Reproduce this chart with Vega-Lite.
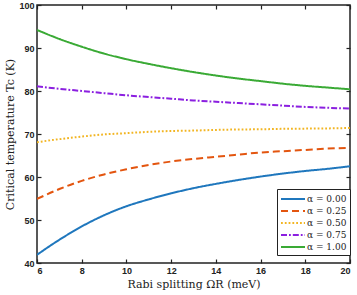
{
  "$schema": "https://vega.github.io/schema/vega-lite/v6.json",
  "autosize": {"type": "none"},
  "padding": {"left": 37, "top": 5, "right": 7, "bottom": 32},
  "width": 313,
  "height": 258,
  "background": "white",
  "config": {
    "view": {"stroke": "#222", "strokeWidth": 1.5},
    "axis": {"grid": false, "domain": false, "tickColor": "#222", "tickSize": -4, "tickWidth": 1.2,
             "labelFont": "Liberation Sans", "labelFontWeight": "bold", "labelFontSize": 9, "labelColor": "#222",
             "titleFont": "DejaVu Serif", "titleFontWeight": "normal", "titleFontSize": 11, "titleColor": "#222"}
  },
  "data": {"values": [
    {"x": 6, "a": "α = 0.00", "t": 41.9}, {"x": 6.5, "a": "α = 0.00", "t": 43.7}, {"x": 7, "a": "α = 0.00", "t": 45.4}, {"x": 7.5, "a": "α = 0.00", "t": 47.0}, {"x": 8, "a": "α = 0.00", "t": 48.5}, {"x": 9, "a": "α = 0.00", "t": 51.1}, {"x": 10, "a": "α = 0.00", "t": 53.2}, {"x": 11, "a": "α = 0.00", "t": 54.8}, {"x": 12, "a": "α = 0.00", "t": 56.2}, {"x": 13, "a": "α = 0.00", "t": 57.4}, {"x": 14, "a": "α = 0.00", "t": 58.4}, {"x": 15, "a": "α = 0.00", "t": 59.3}, {"x": 16, "a": "α = 0.00", "t": 60.1}, {"x": 17, "a": "α = 0.00", "t": 60.8}, {"x": 18, "a": "α = 0.00", "t": 61.4}, {"x": 19, "a": "α = 0.00", "t": 61.9}, {"x": 20, "a": "α = 0.00", "t": 62.5},
    {"x": 6, "a": "α = 0.25", "t": 54.9}, {"x": 7, "a": "α = 0.25", "t": 57.2}, {"x": 8, "a": "α = 0.25", "t": 59.1}, {"x": 9, "a": "α = 0.25", "t": 60.6}, {"x": 10, "a": "α = 0.25", "t": 61.8}, {"x": 11, "a": "α = 0.25", "t": 62.8}, {"x": 12, "a": "α = 0.25", "t": 63.6}, {"x": 13, "a": "α = 0.25", "t": 64.2}, {"x": 14, "a": "α = 0.25", "t": 64.7}, {"x": 15, "a": "α = 0.25", "t": 65.2}, {"x": 16, "a": "α = 0.25", "t": 65.7}, {"x": 17, "a": "α = 0.25", "t": 66.0}, {"x": 18, "a": "α = 0.25", "t": 66.3}, {"x": 19, "a": "α = 0.25", "t": 66.6}, {"x": 20, "a": "α = 0.25", "t": 66.8},
    {"x": 6, "a": "α = 0.50", "t": 68.1}, {"x": 7, "a": "α = 0.50", "t": 68.8}, {"x": 8, "a": "α = 0.50", "t": 69.4}, {"x": 9, "a": "α = 0.50", "t": 69.9}, {"x": 10, "a": "α = 0.50", "t": 70.2}, {"x": 11, "a": "α = 0.50", "t": 70.5}, {"x": 12, "a": "α = 0.50", "t": 70.7}, {"x": 13, "a": "α = 0.50", "t": 70.8}, {"x": 14, "a": "α = 0.50", "t": 70.95}, {"x": 15, "a": "α = 0.50", "t": 71.05}, {"x": 16, "a": "α = 0.50", "t": 71.1}, {"x": 17, "a": "α = 0.50", "t": 71.2}, {"x": 18, "a": "α = 0.50", "t": 71.25}, {"x": 19, "a": "α = 0.50", "t": 71.3}, {"x": 20, "a": "α = 0.50", "t": 71.4},
    {"x": 6, "a": "α = 0.75", "t": 81.1}, {"x": 7, "a": "α = 0.75", "t": 80.5}, {"x": 8, "a": "α = 0.75", "t": 80.0}, {"x": 9, "a": "α = 0.75", "t": 79.5}, {"x": 10, "a": "α = 0.75", "t": 79.0}, {"x": 11, "a": "α = 0.75", "t": 78.6}, {"x": 12, "a": "α = 0.75", "t": 78.2}, {"x": 13, "a": "α = 0.75", "t": 77.8}, {"x": 14, "a": "α = 0.75", "t": 77.5}, {"x": 15, "a": "α = 0.75", "t": 77.2}, {"x": 16, "a": "α = 0.75", "t": 76.9}, {"x": 17, "a": "α = 0.75", "t": 76.6}, {"x": 18, "a": "α = 0.75", "t": 76.3}, {"x": 19, "a": "α = 0.75", "t": 76.1}, {"x": 20, "a": "α = 0.75", "t": 75.9},
    {"x": 6, "a": "α = 1.00", "t": 94.2}, {"x": 7, "a": "α = 1.00", "t": 92.1}, {"x": 8, "a": "α = 1.00", "t": 90.3}, {"x": 9, "a": "α = 1.00", "t": 88.7}, {"x": 10, "a": "α = 1.00", "t": 87.4}, {"x": 11, "a": "α = 1.00", "t": 86.3}, {"x": 12, "a": "α = 1.00", "t": 85.3}, {"x": 13, "a": "α = 1.00", "t": 84.4}, {"x": 14, "a": "α = 1.00", "t": 83.6}, {"x": 15, "a": "α = 1.00", "t": 82.9}, {"x": 16, "a": "α = 1.00", "t": 82.3}, {"x": 17, "a": "α = 1.00", "t": 81.7}, {"x": 18, "a": "α = 1.00", "t": 81.2}, {"x": 19, "a": "α = 1.00", "t": 80.8}, {"x": 20, "a": "α = 1.00", "t": 80.4}
  ]},
  "layer": [
    {
      "mark": {"type": "line", "interpolate": "monotone", "strokeWidth": 2, "clip": true},
      "encoding": {
        "x": {"field": "x", "type": "quantitative", "scale": {"domain": [6, 20], "nice": false},
              "axis": {"values": [6, 8, 10, 12, 14, 16, 18, 20], "title": "Rabi splitting ΩR (meV)", "labelPadding": 7, "titlePadding": 3}},
        "y": {"field": "t", "type": "quantitative", "scale": {"domain": [40, 100], "nice": false, "zero": false},
              "axis": {"values": [40, 50, 60, 70, 80, 90, 100], "title": "Critical temperature Tc (K)", "labelPadding": 7, "titlePadding": 3}},
        "color": {"field": "a", "type": "nominal",
                  "scale": {"domain": ["α = 0.00", "α = 0.25", "α = 0.50", "α = 0.75", "α = 1.00"],
                            "range": ["#1F77BD", "#E3550F", "#F2B522", "#8B1FE0", "#3AAA35"]},
                  "legend": {"title": null, "orient": "none", "legendX": 240, "legendY": 184,
                             "strokeColor": "#222", "fillColor": "white", "padding": 3,
                             "symbolType": "M-2,0H2", "symbolSize": 144, "symbolStrokeWidth": 2, "symbolOffset": 6,
                             "labelFont": "DejaVu Serif", "labelFontSize": 9, "labelColor": "#222", "rowPadding": 0, "labelOffset": 7}},
        "strokeDash": {"field": "a", "type": "nominal",
                       "scale": {"domain": ["α = 0.00", "α = 0.25", "α = 0.50", "α = 0.75", "α = 1.00"],
                                 "range": [[1, 0], [7, 4], [1.8, 2], [6, 2, 1.8, 2], [1, 0]]},
                       "legend": null}
      }
    },
    {
      "mark": {"type": "line", "opacity": 0},
      "encoding": {
        "x": {"field": "x", "type": "quantitative", "scale": {"domain": [6, 20], "nice": false},
              "axis": {"orient": "top", "values": [6, 8, 10, 12, 14, 16, 18, 20], "labels": false, "title": null}},
        "y": {"field": "t", "type": "quantitative", "scale": {"domain": [40, 100], "nice": false, "zero": false},
              "axis": {"orient": "right", "values": [40, 50, 60, 70, 80, 90, 100], "labels": false, "title": null}},
        "detail": {"field": "a"}
      }
    }
  ],
  "resolve": {"axis": {"x": "independent", "y": "independent"}}
}
